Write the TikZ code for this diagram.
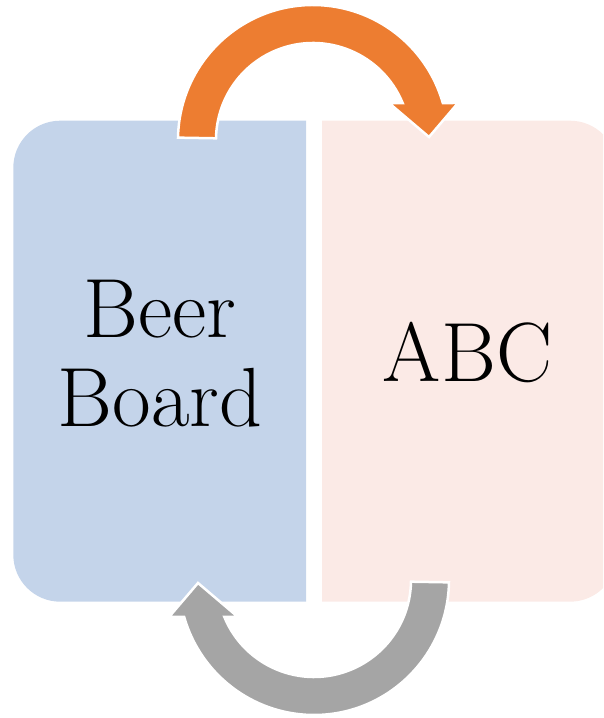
\documentclass[tikz,border=0pt]{standalone}
\usetikzlibrary{calc}
\definecolor{boxblue}{HTML}{C4D4EA}
\definecolor{boxpink}{HTML}{FBEAE6}
\definecolor{arroworange}{HTML}{ED7D31}
\definecolor{arrowgray}{HTML}{A5A5A5}
\tikzset{
  leftbox/.style={fill=boxblue},
  rightbox/.style={fill=boxpink},
  bigarrow/.style={draw=white, line width=2.5pt, line join=miter},
  label/.style={font=\fontsize{84}{89}\selectfont, align=center, inner sep=0pt, text=black}
}
\begin{document}
\begin{tikzpicture}[x=1pt,y=1pt]
\useasboundingbox (0,0) rectangle (603,718);
\begin{scope}
\clip (0,0) rectangle (603,718);
% left box (rounded on the left)
\fill[leftbox] (306,116.3) -- (60.3,116.3) arc[start angle=270, end angle=180, radius=47pt]
  -- (13.3,550.3) arc[start angle=180, end angle=90, radius=47pt] -- (306,597.3) -- cycle;
% right box (rounded on the right)
\fill[rightbox] (322,116.3) -- (570,116.3) arc[start angle=270, end angle=360, radius=47pt]
  -- (617,550.3) arc[start angle=0, end angle=90, radius=47pt] -- (322,597.3) -- cycle;
\end{scope}
% texts
\node[label, anchor=base] (beer) at (160,291) {Beer\\Board};
\node[label, anchor=base] (abc) at (467.5,336) {ABC};
% orange circular arrow (top)
\coordinate (oc) at (313,578);
\filldraw[bigarrow, fill=arroworange]
  ($(oc)+(179:97pt)$) -- ($(oc)+(179:135pt)$) arc[start angle=179, end angle=15.9, radius=135pt]
  -- (458,615) -- (429,581) -- (389,615) -- ($(oc)+(22.4:97pt)$)
  arc[start angle=22.4, end angle=179, radius=97pt] -- cycle;
% gray circular arrow (bottom), point-symmetric to the orange one
\coordinate (gc) at (314,138);
\filldraw[bigarrow, fill=arrowgray]
  ($(gc)+(359:97pt)$) -- ($(gc)+(359:135pt)$) arc[start angle=359, end angle=195.9, radius=135pt]
  -- (169,101) -- (198,135) -- (238,101) -- ($(gc)+(202.4:97pt)$)
  arc[start angle=202.4, end angle=359, radius=97pt] -- cycle;
\end{tikzpicture}
\end{document}
